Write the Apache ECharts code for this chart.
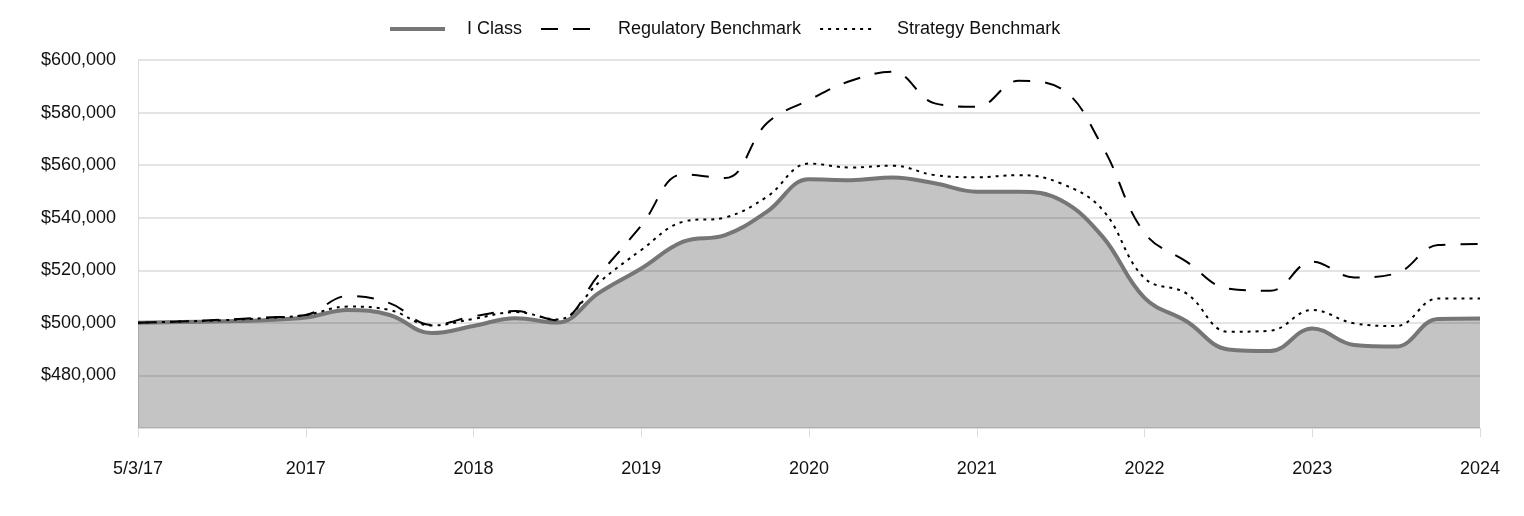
<!DOCTYPE html>
<html>
<head>
<meta charset="utf-8">
<script src="https://cdn.jsdelivr.net/npm/echarts@6/dist/echarts.min.js"></script>
<style>
html,body{margin:0;padding:0;background:#fff;}
#chart{width:1524px;height:516px;}
</style>
</head>
<body>
<div id="chart"></div>
<script>
// Tick labels (one per year boundary; data is quarterly between them)
const tickLabels = ['5/3/17','2017','2018','2019','2020','2021','2022','2023','2024'];
const pointsPerTick = 4;

// Series values (quarterly)
const iClass = [
  500000, 500300, 500600, 501000, 502000, 504900, 503000, 496100,
  498800, 501800, 500100, 511500, 520700, 530900, 533400, 542300,
  554600, 554300, 555300, 553100, 549900, 549900, 546700, 532800,
  509500, 500600, 489900, 489300, 497900, 491600, 491000, 501500,
  501700
];
const regulatory = [
  500000, 500500, 501200, 502000, 503000, 510200, 507500, 499200,
  502500, 504500, 501000, 518500, 537000, 556500, 555100, 576000,
  584800, 592100, 595500, 583500, 582200, 592100, 589200, 567000,
  534200, 523300, 513000, 512200, 523300, 517300, 518800, 529600,
  530000
];
const strategy = [
  500000, 500500, 501000, 501800, 503000, 506200, 504900, 499000,
  501500, 504100, 501300, 515500, 527700, 538500, 540100, 548000,
  560600, 559100, 559800, 556200, 555400, 556200, 553100, 543000,
  517000, 511200, 496600, 497000, 504900, 499800, 498800, 509300,
  509300
];

const categories = [];
for (let i = 0; i < iClass.length; i++) {
  categories.push(i % pointsPerTick === 0 ? tickLabels[i / pointsPerTick] : '');
}

const chart = echarts.init(document.getElementById('chart'));
const fontFamily = 'Liberation Sans, Arial, sans-serif';
chart.setOption({
  animation: false,
  textStyle: { fontFamily },
  legend: {
    top: 15,
    left: 383,
    itemWidth: 55,
    itemHeight: 14,
    itemGap: 18,
    itemStyle: { opacity: 0 },
    textStyle: { fontSize: 18, color: '#111', fontFamily, padding: [0, 0, 0, 17] },
    data: [
      { name: 'I Class', lineStyle: { width: 4, color: '#767676' } },
      { name: 'Regulatory Benchmark', lineStyle: { width: 2, color: '#000', type: [17, 15] } },
      { name: 'Strategy Benchmark', lineStyle: { width: 2, color: '#000', type: [3, 5] } }
    ]
  },
  grid: { left: 138, right: 44, top: 60, bottom: 88 },
  xAxis: {
    type: 'category',
    data: categories,
    boundaryGap: false,
    axisLine: { show: true, lineStyle: { color: '#dcdcdc', width: 1 } },
    axisTick: { show: true, interval: 3, length: 9, lineStyle: { color: '#dcdcdc' } },
    axisLabel: { interval: 3, margin: 32, fontSize: 18, color: '#111', fontFamily },
    splitLine: { show: false }
  },
  yAxis: {
    type: 'value',
    min: 460000,
    max: 600000,
    interval: 20000,
    axisLine: { show: true, lineStyle: { color: '#dcdcdc', width: 1 } },
    axisTick: { show: false },
    axisLabel: {
      fontSize: 18, color: '#111', margin: 22, fontFamily,
      formatter: v => v === 460000 ? '' : '$' + v.toLocaleString('en-US')
    },
    splitLine: { show: true, lineStyle: { color: '#e4e4e4', width: 2 } }
  },
  series: [
    {
      name: 'I Class',
      type: 'line',
      data: iClass,
      smooth: 0.4,
      symbol: 'none',
      lineStyle: { color: '#767676', width: 4 },
      itemStyle: { color: '#767676' },
      areaStyle: { color: 'rgba(0,0,0,0.23)', opacity: 1, origin: 'start' },
      z: 2
    },
    {
      name: 'Regulatory Benchmark',
      type: 'line',
      data: regulatory,
      smooth: 0.4,
      symbol: 'none',
      lineStyle: { color: '#000', width: 2, type: [17, 15] },
      itemStyle: { color: '#000' },
      z: 3
    },
    {
      name: 'Strategy Benchmark',
      type: 'line',
      data: strategy,
      smooth: 0.4,
      symbol: 'none',
      lineStyle: { color: '#000', width: 2, type: [3, 5] },
      itemStyle: { color: '#000' },
      z: 3
    }
  ]
});
</script>
</body>
</html>
